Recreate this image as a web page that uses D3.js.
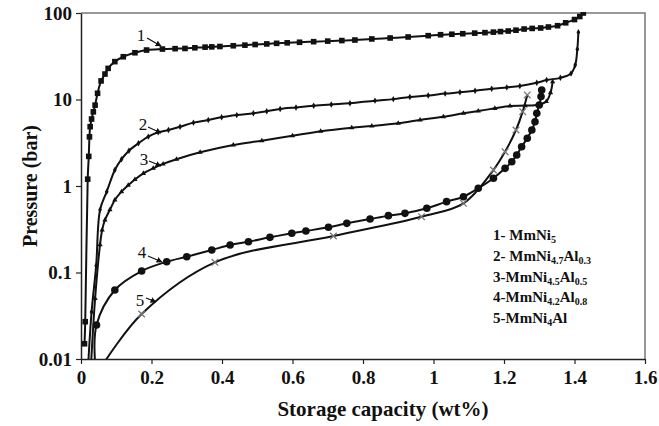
<!DOCTYPE html>
<html>
<head>
<meta charset="utf-8">
<script src="https://cdn.jsdelivr.net/npm/d3@7"></script>
<style>
  html, body { margin: 0; padding: 0; background: #fff; }
  svg { display: block; }
  text { font-family: "Liberation Serif", "Times New Roman", serif; font-weight: bold; fill: #111; }
</style>
</head>
<body>
<svg id="chart" width="659" height="426"></svg>
<script>
// Absorption isotherms: storage capacity (wt%) vs. hydrogen pressure (bar)
const capacityTicks = [0, 0.2, 0.4, 0.6, 0.8, 1, 1.2, 1.4, 1.6];
const pressureTicks = [0.01, 0.1, 1, 10, 100];

// [capacity wt%, pressure bar]
const mmNi5 = [
  [0.010, 0.015], [0.012, 0.027], [0.019, 1.2], [0.022, 2.2], [0.024, 3.7], [0.026, 4.85],
  [0.030, 5.95], [0.035, 7.2], [0.040, 8.6], [0.047, 11.8], [0.057, 16.4], [0.068, 19.7],
  [0.077, 22.9], [0.096, 27.4], [0.120, 31.2], [0.153, 34.7], [0.186, 37.3], [0.231, 38.3],
  [0.267, 38.7], [0.295, 38.9], [0.323, 39.6], [0.352, 40.3], [0.371, 40.6], [0.394, 41.0],
  [0.432, 41.8], [0.465, 42.5], [0.494, 43.2], [0.527, 43.9], [0.555, 44.6], [0.585, 45.2],
  [0.620, 45.9], [0.660, 46.6], [0.700, 47.3], [0.740, 48.0], [0.777, 48.7], [0.825, 50.1],
  [0.877, 51.4], [0.928, 52.8], [0.985, 54.7], [1.020, 56.1], [1.052, 56.8], [1.083, 57.6],
  [1.117, 58.5], [1.146, 59.3], [1.170, 60.1], [1.190, 61.0], [1.212, 61.9], [1.234, 63.3],
  [1.257, 65.3], [1.280, 66.3], [1.304, 67.1], [1.326, 68.9], [1.352, 71.3], [1.375, 77],
  [1.400, 84], [1.415, 91], [1.425, 100]
];
const mmNi47Al03 = [
  [0.020, 0.008], [0.030, 0.035], [0.043, 0.12], [0.054, 0.53], [0.073, 0.86], [0.096, 1.53],
  [0.115, 2.04], [0.136, 2.56], [0.163, 3.12], [0.191, 3.72], [0.219, 4.18], [0.248, 4.44],
  [0.281, 4.85], [0.319, 5.4], [0.361, 5.8], [0.399, 6.23], [0.442, 6.6], [0.489, 6.93],
  [0.527, 7.3], [0.565, 7.77], [0.610, 8.1], [0.660, 8.45], [0.710, 8.75], [0.763, 9.04],
  [0.834, 9.7], [0.886, 10.1], [0.933, 10.7], [0.985, 11.1], [1.033, 11.7], [1.075, 12.1],
  [1.118, 12.6], [1.165, 13.3], [1.208, 13.8], [1.245, 14.3], [1.293, 15.6], [1.321, 16.8],
  [1.360, 17.8], [1.390, 20], [1.402, 25], [1.408, 38], [1.411, 60]
];
const mmNi45Al05 = [
  [0.028, 0.008], [0.040, 0.05], [0.054, 0.21], [0.060, 0.31], [0.068, 0.405], [0.082, 0.53],
  [0.096, 0.69], [0.115, 0.86], [0.134, 1.02], [0.153, 1.19], [0.177, 1.4], [0.205, 1.6],
  [0.233, 1.8], [0.271, 2.04], [0.338, 2.45], [0.432, 2.98], [0.513, 3.34], [0.600, 3.8],
  [0.680, 4.3], [0.768, 4.72], [0.825, 4.94], [0.900, 5.31], [0.962, 5.8], [1.028, 6.33],
  [1.085, 6.92], [1.127, 7.36], [1.174, 7.9], [1.217, 8.4], [1.260, 8.5], [1.297, 8.7],
  [1.320, 9.5], [1.332, 12], [1.338, 16]
];
const mmNi42Al08 = [
  [0.040, 0.009], [0.044, 0.0247], [0.096, 0.0628], [0.172, 0.104], [0.243, 0.133], [0.300, 0.152],
  [0.371, 0.182], [0.423, 0.208], [0.475, 0.227], [0.536, 0.255], [0.598, 0.284], [0.638, 0.302],
  [0.702, 0.333], [0.754, 0.37], [0.820, 0.415], [0.872, 0.454], [0.919, 0.483], [0.981, 0.552],
  [1.037, 0.659], [1.085, 0.752], [1.127, 0.94], [1.170, 1.23], [1.203, 1.6], [1.222, 1.91],
  [1.236, 2.28], [1.250, 2.84], [1.266, 3.56], [1.279, 4.44], [1.288, 5.54], [1.293, 6.92],
  [1.300, 8.64], [1.305, 10.8], [1.307, 12.9]
];
const mmNi4Al = [
  [0.065, 0.009], [0.172, 0.0331], [0.380, 0.131], [0.716, 0.264], [0.966, 0.442], [1.085, 0.63],
  [1.170, 1.53], [1.203, 2.49], [1.234, 4.44], [1.253, 7.24], [1.266, 11.3]
];

// Legend entries: runs of [text, subscript?]
const legendLabels = [
  [["1- MmNi", false], ["5", true]],
  [["2- MmNi", false], ["4.7", true], ["Al", false], ["0.3", true]],
  [["3-MmNi", false], ["4.5", true], ["Al", false], ["0.5", true]],
  [["4-MmNi", false], ["4.2", true], ["Al", false], ["0.8", true]],
  [["5-MmNi", false], ["4", true], ["Al", false]]
];
const curveNumbers = ["1", "2", "3", "4", "5"];

const svg = d3.select("#chart");
const plotLeft = 81, plotRight = 645, plotTop = 13, plotBottom = 359;

const x = d3.scaleLinear().domain([0, 1.6]).range([plotLeft, plotRight]);
const y = d3.scaleLog().domain([0.01, 100]).range([plotBottom, plotTop]);

// plot frame (top/right)
svg.append("path")
  .attr("d", `M${plotLeft},${plotTop}H${plotRight}V${plotBottom}`)
  .attr("fill", "none").attr("stroke", "#777").attr("stroke-width", 1.5);

// axes
const xAxis = svg.append("g").attr("transform", `translate(0,${plotBottom})`)
  .call(d3.axisBottom(x).tickValues(capacityTicks).tickSize(5).tickSizeOuter(0)
    .tickFormat(d => String(+d.toFixed(1))));
const yAxis = svg.append("g").attr("transform", `translate(${plotLeft},0)`)
  .call(d3.axisLeft(y).tickValues(pressureTicks).tickSize(5).tickSizeOuter(0)
    .tickFormat(d => String(d)));
[xAxis, yAxis].forEach(g => {
  g.attr("font-size", 19).attr("font-family", "'Liberation Serif', serif");
  g.select(".domain").attr("stroke", "#222").attr("stroke-width", 1.5);
  g.selectAll(".tick line").attr("stroke", "#222").attr("stroke-width", 1.2);
  g.selectAll(".tick text").attr("fill", "#111")
    .style("font-family", "'Liberation Serif', serif").style("font-weight", "bold")
    .style("font-size", "19px");
});
xAxis.selectAll(".tick text").attr("dy", "0.92em");
yAxis.selectAll(".tick text").attr("x", -9);

// axis titles
svg.append("text").attr("x", 383).attr("y", 416).attr("text-anchor", "middle")
  .style("font-size", "21px").text("Storage capacity (wt%)");
svg.append("text").attr("transform", "translate(37,186) rotate(-90)")
  .attr("text-anchor", "middle").style("font-size", "20px").text("Pressure (bar)");

// clipping to plot area
svg.append("clipPath").attr("id", "plotClip")
  .append("rect").attr("x", plotLeft).attr("y", plotTop - 1)
  .attr("width", plotRight - plotLeft).attr("height", plotBottom - plotTop + 1);

const plot = svg.append("g").attr("clip-path", "url(#plotClip)");
const line = d3.line().x(d => x(d[0])).y(d => y(d[1])).curve(d3.curveCatmullRom.alpha(0.5));

const series = [
  { data: mmNi5, marker: "square" },
  { data: mmNi47Al03, marker: "diamond" },
  { data: mmNi45Al05, marker: "triangle" },
  { data: mmNi42Al08, marker: "circle" },
  { data: mmNi4Al, marker: "cross" }
];

series.forEach(s => {
  plot.append("path").datum(s.data).attr("d", line)
    .attr("fill", "none").attr("stroke", "#111").attr("stroke-width", 2);
  const pts = plot.append("g").selectAll("g").data(s.data).join("g")
    .attr("transform", d => `translate(${x(d[0])},${y(d[1])})`);
  if (s.marker === "square") {
    pts.append("rect").attr("x", -2.8).attr("y", -2.8).attr("width", 5.6).attr("height", 5.6).attr("fill", "#111");
  } else if (s.marker === "diamond") {
    pts.append("path").attr("d", d3.symbol(d3.symbolDiamond, 12)).attr("fill", "#111");
  } else if (s.marker === "triangle") {
    pts.append("path").attr("d", d3.symbol(d3.symbolTriangle, 12)).attr("fill", "#111");
  } else if (s.marker === "circle") {
    pts.append("circle").attr("r", 3.8).attr("fill", "#111");
  } else {
    pts.append("path").attr("d", d3.symbol(d3.symbolX, 30)).attr("fill", "none")
      .attr("stroke", "#777").attr("stroke-width", 1.3);
  }
});

// curve numbers with pointer arrows: [label x, label y, arrow from, arrow to]
const pointerPos = [
  [141, 41, [147, 38], [161, 46]],
  [143, 130, [148, 127], [161, 133]],
  [144, 165, [149, 161], [161, 166]],
  [142, 258, [148, 256], [162, 262]],
  [140, 306, [146, 298], [156, 302]]
];
svg.append("defs").append("marker").attr("id", "arrowHead")
  .attr("viewBox", "0 0 10 10").attr("refX", 9).attr("refY", 5)
  .attr("markerWidth", 5).attr("markerHeight", 5).attr("orient", "auto")
  .append("path").attr("d", "M0,0L10,5L0,10z").attr("fill", "#111");
curveNumbers.forEach((n, i) => {
  const p = pointerPos[i];
  svg.append("text").attr("x", p[0]).attr("y", p[1]).attr("text-anchor", "middle")
    .style("font-size", "17px").style("font-weight", "normal").text(n);
  svg.append("line").attr("x1", p[2][0]).attr("y1", p[2][1]).attr("x2", p[3][0]).attr("y2", p[3][1])
    .attr("stroke", "#111").attr("stroke-width", 1.2).attr("marker-end", "url(#arrowHead)");
});

// legend
const legend = svg.append("g");
legendLabels.forEach((runs, i) => {
  const t = legend.append("text").attr("x", 493).attr("y", 240 + i * 20.8).style("font-size", "15px");
  runs.forEach(([txt, sub]) => {
    const ts = t.append("tspan").text(txt);
    if (sub) ts.style("font-size", "10px").attr("dy", 3);
    else if (t.selectAll("tspan").size() > 1) ts.attr("dy", -3);
  });
});
</script>
</body>
</html>
